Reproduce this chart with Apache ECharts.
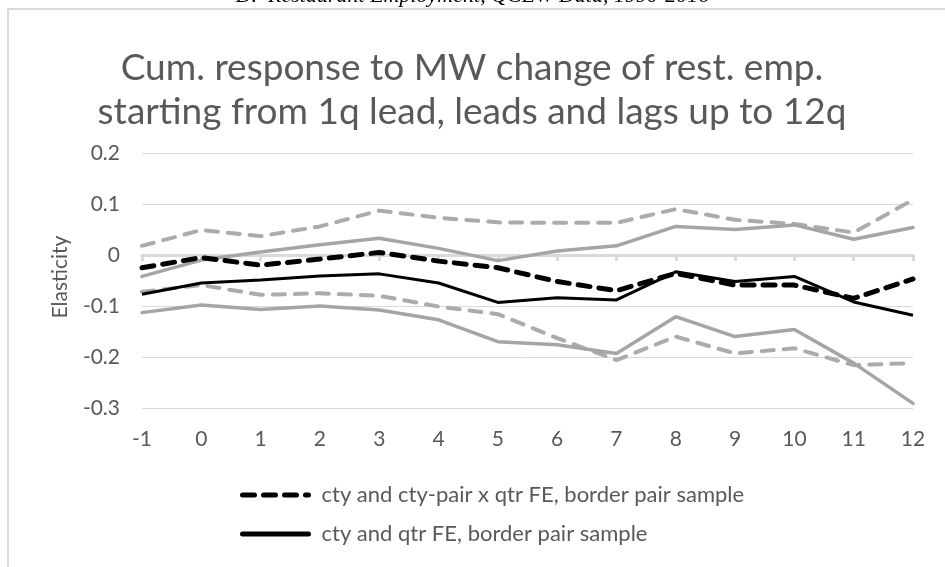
<!DOCTYPE html>
<html>
<head>
<meta charset="utf-8">
<script src="https://cdn.jsdelivr.net/npm/echarts@6/dist/echarts.min.js"></script>
<style>
html, body { margin: 0; padding: 0; background: #fff; }
#chart { width: 945px; height: 567px; }
</style>
</head>
<body>
<div id="chart"></div>
<script>
// leads and lags, quarters
var quarters = ['-1', '0', '1', '2', '3', '4', '5', '6', '7', '8', '9', '10', '11', '12'];

// cty and cty-pair x qtr FE, border pair sample (black dashed) + 95% band (grey dashed)
var pairFE = [-0.025, -0.005, -0.02, -0.008, 0.005, -0.012, -0.025, -0.052, -0.07, -0.036, -0.059, -0.059, -0.085, -0.047];
var pairFEHigh = [0.018, 0.049, 0.037, 0.056, 0.087, 0.073, 0.064, 0.063, 0.063, 0.09, 0.069, 0.061, 0.044, 0.108];
var pairFELow = [-0.072, -0.059, -0.078, -0.075, -0.08, -0.101, -0.116, -0.163, -0.206, -0.16, -0.193, -0.183, -0.216, -0.212];

// cty and qtr FE, border pair sample (black solid) + 95% band (grey solid)
var qtrFE = [-0.077, -0.055, -0.049, -0.041, -0.037, -0.055, -0.093, -0.084, -0.088, -0.033, -0.052, -0.042, -0.092, -0.118];
var qtrFEHigh = [-0.042, -0.01, 0.006, 0.02, 0.033, 0.013, -0.011, 0.008, 0.018, 0.056, 0.05, 0.059, 0.031, 0.054];
var qtrFELow = [-0.113, -0.098, -0.107, -0.1, -0.108, -0.127, -0.17, -0.176, -0.193, -0.121, -0.16, -0.146, -0.212, -0.291];

var txt = '#595959';
var font = 'Lato';

function band(name, data, color, dashed) {
    return {
        name: name,
        type: 'line',
        data: data,
        symbol: 'none',
        silent: true,
        lineStyle: {
            color: color,
            width: dashed ? 4 : 3.5,
            type: dashed ? [12, 10] : 'solid',
            cap: 'round'
        }
    };
}

var myChart = echarts.init(document.getElementById('chart'));
var option = {
    animation: false,
    textStyle: { fontFamily: font },
    graphic: [
        { // caption of the figure, cut at the top
            type: 'text',
            left: 'center',
            top: -15,
            style: {
                text: 'D.  Restaurant Employment, QCEW Data, 1990-2016',
                font: 'italic 22px "Liberation Serif"',
                fill: '#000'
            }
        },
        { // chart frame
            type: 'rect',
            shape: { x: 8, y: 9, width: 1000, height: 1000 },
            style: { fill: 'none', stroke: '#d9d9d9', lineWidth: 2 },
            silent: true
        },
        { // y axis title
            type: 'text',
            x: 60,
            y: 277,
            rotation: Math.PI / 2,
            style: {
                text: 'Elasticity',
                font: '21px Lato',
                fill: txt,
                align: 'center',
                verticalAlign: 'middle'
            }
        }
    ],
    title: {
        text: 'Cum. response to MW change of rest. emp.\nstarting from 1q lead, leads and lags up to 12q',
        left: 472,
        top: 46,
        padding: 0,
        textAlign: 'center',
        textStyle: {
            color: txt,
            fontFamily: font,
            fontWeight: 'normal',
            fontSize: 37,
            lineHeight: 44
        }
    },
    legend: {
        data: ['cty and cty-pair x qtr FE, border pair sample', 'cty and qtr FE, border pair sample'],
        orient: 'vertical',
        left: 235,
        top: 479,
        itemWidth: 66,
        itemHeight: 14,
        itemGap: 17,
        itemStyle: { opacity: 0 },
        lineStyle: { width: 5, cap: 'round' },
        textStyle: { color: txt, fontSize: 22, fontFamily: font, padding: [0, 0, 0, 8] }
    },
    grid: {
        left: 142,
        right: 32,
        top: 153,
        bottom: 159
    },
    xAxis: [
        {
            type: 'category',
            data: quarters,
            boundaryGap: false,
            position: 'bottom',
            axisLine: { show: false, onZero: false },
            axisTick: { show: false },
            axisLabel: { color: txt, fontSize: 21, margin: 21, fontFamily: font }
        },
        { // zero line with its ticks
            type: 'category',
            data: quarters,
            boundaryGap: false,
            position: 'bottom',
            axisLine: { onZero: true, lineStyle: { color: '#d9d9d9', width: 3 } },
            axisTick: { show: true, length: 6, lineStyle: { color: '#d9d9d9', width: 3 } },
            axisLabel: { show: false }
        }
    ],
    yAxis: {
        type: 'value',
        min: -0.3,
        max: 0.2,
        interval: 0.1,
        axisLine: { show: false },
        axisTick: { show: false },
        axisLabel: { color: txt, fontSize: 21, margin: 22, fontFamily: font },
        splitLine: { lineStyle: { color: '#d9d9d9', width: 1 } }
    },
    series: [
        band('pairHigh', pairFEHigh, '#aeaaaa', true),
        band('pairLow', pairFELow, '#aeaaaa', true),
        band('qtrHigh', qtrFEHigh, '#a5a5a5', false),
        band('qtrLow', qtrFELow, '#a5a5a5', false),
        {
            name: 'cty and cty-pair x qtr FE, border pair sample',
            type: 'line',
            data: pairFE,
            symbol: 'none',
            z: 5,
            lineStyle: { color: '#000', width: 5, type: [12, 9], cap: 'round' },
            itemStyle: { color: '#000' }
        },
        {
            name: 'cty and qtr FE, border pair sample',
            type: 'line',
            data: qtrFE,
            symbol: 'none',
            z: 5,
            lineStyle: { color: '#000', width: 3 },
            itemStyle: { color: '#000' }
        }
    ]
};
myChart.setOption(option);
</script>
</body>
</html>
